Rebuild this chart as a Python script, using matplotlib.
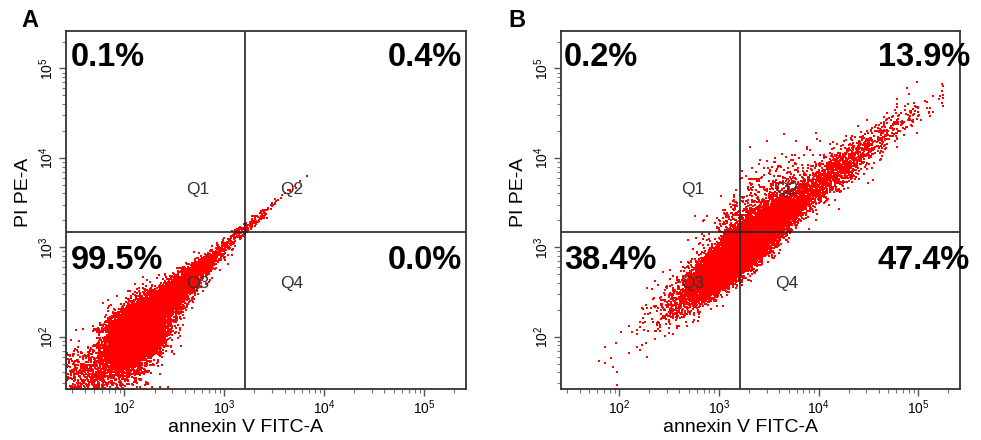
import matplotlib
matplotlib.use("Agg")
import matplotlib.pyplot as plt
import numpy as np
from matplotlib.ticker import LogLocator, NullFormatter, FixedLocator

plt.rcParams['font.family'] = ['Liberation Sans', 'DejaVu Sans']
plt.rcParams['mathtext.fontset'] = 'custom'
plt.rcParams['mathtext.rm'] = 'Liberation Sans'
plt.rcParams['mathtext.it'] = 'Liberation Sans'

# quadrant percentages (Q1, Q2, Q3, Q4)
panels = ['A', 'B']
pct_A = ['0.1%', '0.4%', '99.5%', '0.0%']
pct_B = ['0.2%', '13.9%', '38.4%', '47.4%']
quad_names = ['Q1', 'Q2', 'Q3', 'Q4']

# gate positions and axis range (linear units)
gate_x = 1620
gate_y = 1480
axis_min = 26
axis_max = 262144
xlabel = 'annexin V FITC-A'
ylabel = 'PI PE-A'

# event clouds, described in log10 space from the dots in the picture
# panel A: live-cell blob (centre x, centre y, sd x, sd y, correlation, events)
blob_A = [(2.12, 2.02, 0.15, 0.19, 0.45, 9000)]
# panel A: diagonal wedge (start log y, spread above start, x offset from ridge, events)
wedge_A = [(2.05, 0.42, -0.02, 6500),
           (3.10, 0.30, 0.02, 90)]         # few events past the gate crossing
corner_A = [(1.70, 0.22), (1.58, 0.14), 700]   # loose debris in the corner

ridge_B = [(2.73, 2.53), (4.98, 4.48)]     # two points (log x, log y) on the ridge
# (centre along ridge, spread along ridge, spread across ridge, events)
clusters_B = [(3.18, 0.24, 0.12, 14000),   # dense band across the gate
              (3.95, 0.45, 0.11, 2300),    # upper arm into Q2
              (2.45, 0.25, 0.18, 120)]     # sparse lower-left tail
lift_B = [(3.35, 0.28, 0.30, 1500)]        # events spread upward into Q2

rng = np.random.default_rng(7)
lo, hi = np.log10(axis_min), np.log10(axis_max)


def cloud_A():
    xs, ys = [], []
    for cx, cy, sx, sy, r, n in blob_A:
        cov = [[sx * sx, r * sx * sy], [r * sx * sy, sy * sy]]
        p = rng.multivariate_normal([cx, cy], cov, n)
        xs.append(p[:, 0])
        ys.append(p[:, 1])
    for s0, sd, off, n in wedge_A:
        s = s0 + np.abs(rng.normal(0, sd, n))
        s = np.where(s > 3.85, 3.85 - (s - 3.85), s)
        width = np.clip(0.03 + 0.08 * (3.3 - s), 0.025, None)
        xs.append(s + off + rng.normal(0, 1, n) * width)
        ys.append(s)
    (cx, sx), (cy, sy), n = corner_A
    xs.append(rng.normal(cx, sx, n))
    ys.append(rng.normal(cy, sy, n))
    return np.concatenate(xs), np.concatenate(ys)


def cloud_B():
    (x0, y0), (x1, y1) = ridge_B
    slope = (y1 - y0) / (x1 - x0)
    xs, ys = [], []
    for c, sd, w, n in clusters_B:
        u = np.clip(rng.normal(c, sd, n), None, 5.25)
        xs.append(u)
        ys.append(y0 + slope * (u - x0) + rng.normal(0.05 if c > 3.5 else 0, w, n))
    for c, sd, w, n in lift_B:
        u = rng.normal(c, sd, n)
        xs.append(u)
        ys.append(y0 + slope * (u - x0) + np.abs(rng.normal(0, w, n)))
    return np.concatenate(xs), np.concatenate(ys)


fig = plt.figure(figsize=(9.81, 4.4), dpi=100)
ax_A = fig.add_axes([66 / 981, 51 / 440, 400 / 981, 358 / 440])
ax_B = fig.add_axes([561 / 981, 51 / 440, 399 / 981, 358 / 440])

# text anchors per panel: left x, right x (axes fraction), panel letter x
anchors = {'A': (0.012, 0.99, -0.09), 'B': (0.008, 1.025, -0.11)}

for ax, name, pct, cloud in [(ax_A, 'A', pct_A, cloud_A), (ax_B, 'B', pct_B, cloud_B)]:
    lx, ly = cloud()
    lx = np.clip(lx, lo + 0.005, hi - 0.005)
    ly = np.clip(ly, lo + 0.005, hi - 0.005)
    ax.scatter(10 ** lx, 10 ** ly, s=1.3, marker='s', color='#ff0000',
               linewidths=0, rasterized=True)

    ax.set_xscale('log')
    ax.set_yscale('log')
    ax.set_xlim(axis_min, axis_max)
    ax.set_ylim(axis_min, axis_max)

    ax.axvline(gate_x, color='#222222', lw=1.2)
    ax.axhline(gate_y, color='#222222', lw=1.2)

    major = [1e2, 1e3, 1e4, 1e5]
    ax.xaxis.set_major_locator(FixedLocator(major))
    ax.yaxis.set_major_locator(FixedLocator(major))
    ax.set_xticklabels([r'$10^{%d}$' % np.log10(v) for v in major], fontsize=10)
    ax.set_yticklabels([r'$10^{%d}$' % np.log10(v) for v in major], fontsize=10,
                       rotation=90, va='center')
    for axis in (ax.xaxis, ax.yaxis):
        axis.set_minor_locator(LogLocator(base=10, subs=np.arange(2, 10), numticks=20))
        axis.set_minor_formatter(NullFormatter())
    ax.tick_params(which='major', direction='out', length=5, width=1, color='#555555',
                   pad=2)
    ax.tick_params(which='minor', direction='out', length=3, width=0.8, color='#777777')
    for sp in ax.spines.values():
        sp.set_linewidth(1.3)
        sp.set_color('#333333')

    ax.set_xlabel(xlabel, fontsize=14, labelpad=0)
    ax.xaxis.set_label_coords(0.45, -0.085)
    ax.set_ylabel(ylabel, fontsize=14)
    ax.yaxis.set_label_coords(-0.085, 0.55)

    # quadrant names
    q_pos = [(0.33, 0.556), (0.565, 0.556), (0.33, 0.296), (0.565, 0.296)]
    for q, (qx, qy) in zip(quad_names, q_pos):
        ax.text(qx, qy, q, transform=ax.transAxes, fontsize=12.5, color='#333333',
                ha='center', va='center')

    # percentages
    left, right, letter_x = anchors[name]
    p_pos = [(left, 0.925, 'left'), (right, 0.925, 'right'),
             (left, 0.36, 'left'), (right, 0.36, 'right')]
    for p, (px, py, ha) in zip(pct, p_pos):
        ax.text(px, py, p, transform=ax.transAxes, fontsize=23.5, fontweight='bold',
                ha=ha, va='center', color='black', clip_on=False)

    ax.text(letter_x, 1.03, name, transform=ax.transAxes, fontsize=17,
            fontweight='bold', ha='center', va='center')

fig.savefig('out.png', dpi=100)
